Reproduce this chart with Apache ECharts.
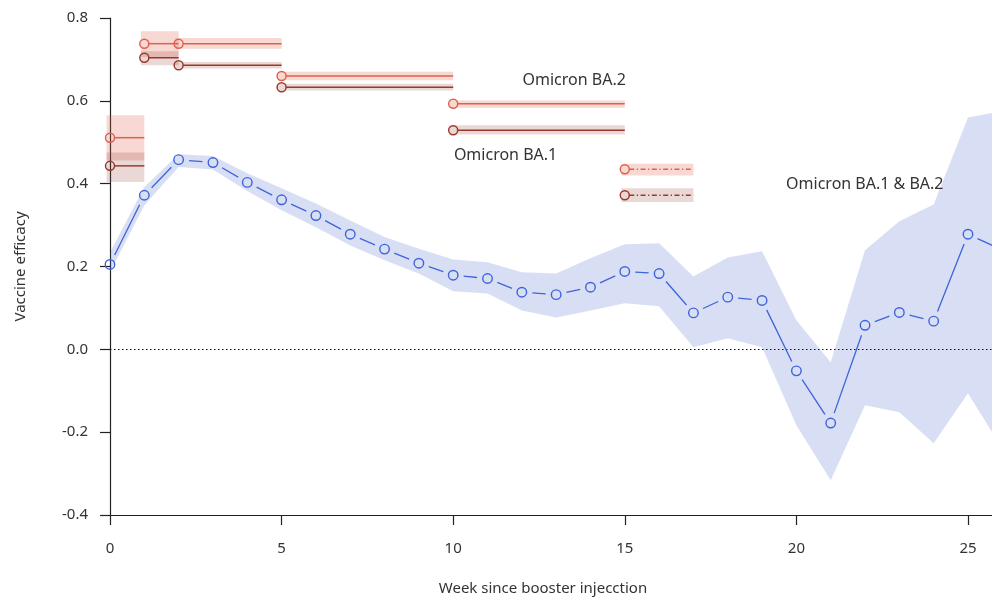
<!DOCTYPE html>
<html>
<head>
<meta charset="utf-8">
<script src="https://cdn.jsdelivr.net/npm/echarts@6/dist/echarts.min.js"></script>
<style>
  html, body { margin: 0; padding: 0; background: #fff; }
  #chart { width: 992px; height: 601px; }
</style>
</head>
<body>
<div id="chart"></div>
<script>
// Weekly vaccine efficacy against Omicron BA.1 & BA.2 combined, with 95% CI
const weeks = [0, 1, 2, 3, 4, 5, 6, 7, 8, 9, 10, 11, 12, 13, 14, 15, 16, 17, 18, 19, 20, 21, 22, 23, 24, 25, 26];
const efficacy = [0.205, 0.372, 0.458, 0.451, 0.403, 0.361, 0.323, 0.278, 0.242, 0.208, 0.179, 0.171, 0.138, 0.132, 0.150, 0.188, 0.183, 0.088, 0.126, 0.118, -0.052, -0.178, 0.058, 0.089, 0.068, 0.278, 0.240];
const efficacyLow = [0.187, 0.348, 0.440, 0.434, 0.382, 0.336, 0.295, 0.251, 0.215, 0.183, 0.140, 0.135, 0.094, 0.077, 0.094, 0.111, 0.104, 0.005, 0.027, 0.005, -0.183, -0.316, -0.135, -0.152, -0.227, -0.106, -0.240];
const efficacyHigh = [0.234, 0.392, 0.471, 0.467, 0.425, 0.389, 0.352, 0.311, 0.271, 0.243, 0.217, 0.210, 0.186, 0.183, 0.220, 0.254, 0.256, 0.176, 0.222, 0.237, 0.070, -0.031, 0.239, 0.309, 0.350, 0.560, 0.575];

// Period estimates per variant: [start week, end week) with value and CI
const periodStart = [0, 1, 2, 5, 10, 15];
const periodEnd = [1, 2, 5, 10, 15, 17];
const ba2Value = [0.511, 0.738, 0.738, 0.660, 0.593, 0.435];
const ba2Low = [0.456, 0.706, 0.726, 0.650, 0.583, 0.420];
const ba2High = [0.565, 0.768, 0.752, 0.670, 0.601, 0.448];
const ba1Value = [0.443, 0.704, 0.686, 0.633, 0.529, 0.372];
const ba1Low = [0.404, 0.686, 0.678, 0.625, 0.519, 0.356];
const ba1High = [0.475, 0.720, 0.694, 0.641, 0.541, 0.389];

// Axis tick values
const xTicks = [0, 5, 10, 15, 20, 25];
const yTicks = [-0.4, -0.2, 0.0, 0.2, 0.4, 0.6, 0.8];

// Text annotations: label, anchor week, anchor value
const noteText = ['Omicron BA.2', 'Omicron BA.1', 'Omicron BA.1 & BA.2'];
const noteWeek = [15.03, 10.02, 19.7];
const noteValue = [0.649, 0.468, 0.398];

// ---- styling ----
const FONT = 'Noto Sans';
const BLUE = '#3f63d8';
const BLUE_BAND = 'rgba(60, 95, 200, 0.2)';
const BA2_LINE = '#e0604d';
const BA2_BAND = 'rgba(222, 92, 72, 0.24)';
const BA1_LINE = '#983a2b';
const BA1_BAND = 'rgba(150, 60, 50, 0.2)';
const dashDot = [5, 2.5, 1.3, 2.5];
const lastPeriodDashed = periodStart.map((s, i) => i === periodStart.length - 1);

const chart = echarts.init(document.getElementById('chart'), null, { renderer: 'canvas' });

function periodData(values, lows, highs) {
  return periodStart.map((s, i) => [s, periodEnd[i], values[i], lows[i], highs[i]]);
}

function bandSeries(name, values, lows, highs, color) {
  return {
    name: name,
    type: 'custom',
    silent: true,
    z: 3,
    data: periodData(values, lows, highs),
    encode: { x: [0, 1], y: [3, 4] },
    renderItem: function (params, api) {
      const p0 = api.coord([api.value(0) - 0.1, api.value(4)]);
      const p1 = api.coord([api.value(1), api.value(3)]);
      return {
        type: 'rect',
        shape: { x: p0[0], y: p0[1], width: p1[0] - p0[0], height: p1[1] - p0[1] },
        style: { fill: color }
      };
    }
  };
}

function stepSeries(name, values, lows, highs, color) {
  return {
    name: name,
    type: 'custom',
    silent: true,
    z: 6,
    data: periodData(values, lows, highs),
    encode: { x: [0, 1], y: 2 },
    renderItem: function (params, api) {
      const r = 4.5;
      const a = api.coord([api.value(0), api.value(2)]);
      const b = api.coord([api.value(1), api.value(2)]);
      const dashed = lastPeriodDashed[params.dataIndex];
      return {
        type: 'group',
        children: [
          {
            type: 'line',
            shape: { x1: a[0] + r, y1: a[1], x2: b[0], y2: b[1] },
            style: { stroke: color, lineWidth: 1.5, lineDash: dashed ? dashDot : null }
          },
          {
            type: 'circle',
            shape: { cx: a[0], cy: a[1], r: r },
            style: { fill: 'rgba(0,0,0,0)', stroke: color, lineWidth: 1.5 }
          }
        ]
      };
    }
  };
}

const option = {
  animation: false,
  backgroundColor: '#ffffff',
  textStyle: { fontFamily: FONT },
  grid: { left: 110, right: 0, top: 18, bottom: 86, containLabel: false },
  xAxis: {
    type: 'value',
    min: 0,
    max: 25.7,
    interval: 5,
    name: 'Week since booster injecction',
    nameLocation: 'middle',
    nameGap: 66,
    nameTextStyle: { fontFamily: FONT, fontSize: 15, color: '#333', padding: [0, 16, 0, 0] },
    axisLine: { onZero: false, lineStyle: { color: '#222', width: 1.2 } },
    axisTick: { length: 10, customValues: xTicks, lineStyle: { color: '#222', width: 1.2 } },
    axisLabel: { margin: 26, customValues: xTicks, fontFamily: FONT, fontSize: 15, color: '#333' },
    splitLine: { show: false }
  },
  yAxis: {
    type: 'value',
    min: yTicks[0],
    max: yTicks[yTicks.length - 1],
    interval: 0.2,
    name: 'Vaccine efficacy',
    nameLocation: 'middle',
    nameGap: 82,
    nameTextStyle: { fontFamily: FONT, fontSize: 15, color: '#333' },
    axisLine: { show: true, onZero: false, lineStyle: { color: '#222', width: 1.2 } },
    axisTick: { show: true, length: 10, lineStyle: { color: '#222', width: 1.2 } },
    axisLabel: {
      margin: 22, fontFamily: FONT, fontSize: 15, color: '#333',
      formatter: function (v) { return (Math.abs(v) < 1e-9 ? 0 : v).toFixed(1); }
    },
    splitLine: { show: false }
  },
  series: [
    // confidence band of the weekly estimate
    {
      name: 'efficacy band',
      type: 'custom',
      silent: true,
      z: 1,
      data: weeks.map((w, i) => [w, efficacyLow[i], efficacyHigh[i]]),
      encode: { x: 0, y: [1, 2] },
      renderItem: function (params, api) {
        if (params.dataIndex !== 0) return null;
        const upper = weeks.map((w, i) => api.coord([w, efficacyHigh[i]]));
        const lower = weeks.map((w, i) => api.coord([w, efficacyLow[i]])).reverse();
        return {
          type: 'polygon',
          shape: { points: upper.concat(lower) },
          style: { fill: BLUE_BAND }
        };
      }
    },
    bandSeries('BA.2 band', ba2Value, ba2Low, ba2High, BA2_BAND),
    bandSeries('BA.1 band', ba1Value, ba1Low, ba1High, BA1_BAND),
    // connectors between weekly points, stopped short of the markers
    {
      name: 'efficacy line',
      type: 'custom',
      silent: true,
      z: 5,
      data: weeks.slice(0, -1).map((w, i) => [w, efficacy[i], weeks[i + 1], efficacy[i + 1]]),
      encode: { x: [0, 2], y: [1, 3] },
      renderItem: function (params, api) {
        const a = api.coord([api.value(0), api.value(1)]);
        const b = api.coord([api.value(2), api.value(3)]);
        const dx = b[0] - a[0], dy = b[1] - a[1];
        const len = Math.sqrt(dx * dx + dy * dy);
        const gap = 10.5;
        if (len <= 2 * gap) return null;
        const ux = dx / len, uy = dy / len;
        return {
          type: 'line',
          shape: { x1: a[0] + ux * gap, y1: a[1] + uy * gap, x2: b[0] - ux * gap, y2: b[1] - uy * gap },
          style: { stroke: BLUE, lineWidth: 1.3 }
        };
      }
    },
    {
      name: 'efficacy',
      type: 'scatter',
      silent: true,
      z: 6,
      symbol: 'circle',
      symbolSize: 9.5,
      itemStyle: { color: 'rgba(0,0,0,0)', borderColor: BLUE, borderWidth: 1.4, opacity: 1 },
      data: weeks.map((w, i) => [w, efficacy[i]]),
      markLine: {
        silent: true,
        symbol: ['none', 'none'],
        label: { show: false },
        lineStyle: { color: '#111', width: 1.2, type: [1.5, 2.5] },
        data: [{ yAxis: 0 }]
      }
    },
    stepSeries('BA.2', ba2Value, ba2Low, ba2High, BA2_LINE),
    stepSeries('BA.1', ba1Value, ba1Low, ba1High, BA1_LINE),
    // variant annotations
    {
      name: 'notes',
      type: 'custom',
      silent: true,
      z: 8,
      data: noteText.map((t, i) => [noteWeek[i], noteValue[i]]),
      encode: { x: 0, y: 1 },
      renderItem: function (params, api) {
        const p = api.coord([api.value(0), api.value(1)]);
        const i = params.dataIndex;
        return {
          type: 'text',
          x: p[0],
          y: p[1],
          style: {
            text: noteText[i],
            fill: '#333',
            fontFamily: FONT,
            fontSize: 16,
            align: i === 0 ? 'right' : 'left',
            verticalAlign: 'middle'
          }
        };
      }
    }
  ]
};

chart.setOption(option);
</script>
</body>
</html>
